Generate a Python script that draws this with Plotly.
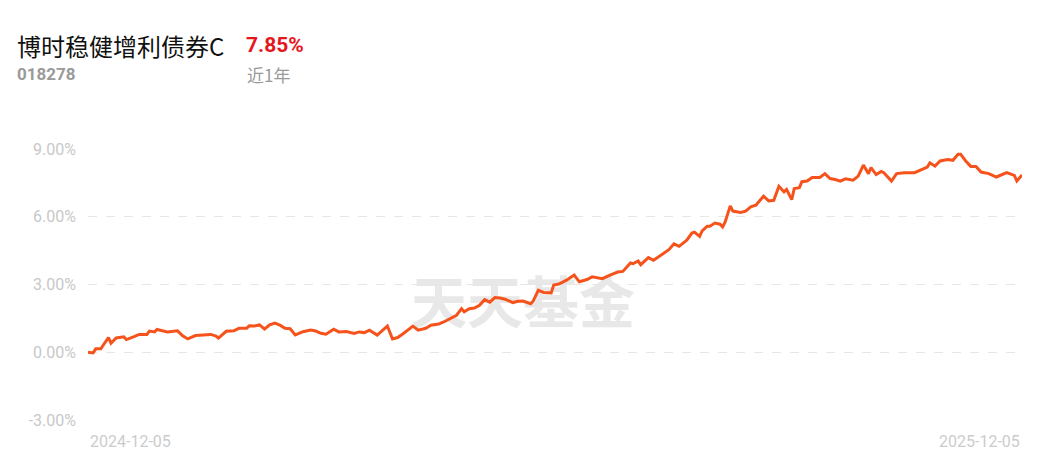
import plotly.graph_objects as go

fund_name = "博时稳健增利债券C"
fund_code = "018278"
period_label = "近1年"
period_return = "7.85%"
watermark = "天天基金"

dates = [
    "2024-12-05", "2024-12-07", "2024-12-08", "2024-12-10", "2024-12-11", "2024-12-13",
    "2024-12-14", "2024-12-16", "2024-12-19", "2024-12-20", "2024-12-23", "2024-12-25",
    "2024-12-28", "2024-12-29", "2024-12-31", "2025-01-01", "2025-01-05", "2025-01-09",
    "2025-01-11", "2025-01-13", "2025-01-16", "2025-01-19", "2025-01-22", "2025-01-24",
    "2025-01-25", "2025-01-28", "2025-01-31", "2025-02-02", "2025-02-05", "2025-02-06",
    "2025-02-08", "2025-02-10", "2025-02-12", "2025-02-14", "2025-02-16", "2025-02-18",
    "2025-02-20", "2025-02-22", "2025-02-24", "2025-02-27", "2025-03-02", "2025-03-04",
    "2025-03-06", "2025-03-08", "2025-03-09", "2025-03-11", "2025-03-13", "2025-03-16",
    "2025-03-19", "2025-03-21", "2025-03-23", "2025-03-25", "2025-03-28", "2025-03-30",
    "2025-04-01", "2025-04-03", "2025-04-05", "2025-04-07", "2025-04-09", "2025-04-11",
    "2025-04-13", "2025-04-16", "2025-04-18", "2025-04-21", "2025-04-23", "2025-04-26",
    "2025-04-28", "2025-04-30", "2025-05-01", "2025-05-03", "2025-05-05", "2025-05-07",
    "2025-05-09", "2025-05-11", "2025-05-13", "2025-05-15", "2025-05-17", "2025-05-20",
    "2025-05-22", "2025-05-24", "2025-05-27", "2025-05-28", "2025-05-30", "2025-06-01",
    "2025-06-04", "2025-06-05", "2025-06-07", "2025-06-10", "2025-06-13", "2025-06-15",
    "2025-06-18", "2025-06-20", "2025-06-24", "2025-06-27", "2025-06-30", "2025-07-02",
    "2025-07-05", "2025-07-06", "2025-07-08", "2025-07-09", "2025-07-12", "2025-07-14",
    "2025-07-17", "2025-07-20", "2025-07-22", "2025-07-24", "2025-07-27", "2025-07-29",
    "2025-07-30", "2025-08-01", "2025-08-02", "2025-08-04", "2025-08-05", "2025-08-07",
    "2025-08-09", "2025-08-10", "2025-08-11", "2025-08-13", "2025-08-14", "2025-08-17",
    "2025-08-19", "2025-08-21", "2025-08-23", "2025-08-26", "2025-08-28", "2025-08-30",
    "2025-09-01", "2025-09-03", "2025-09-04", "2025-09-06", "2025-09-07", "2025-09-09",
    "2025-09-10", "2025-09-12", "2025-09-14", "2025-09-17", "2025-09-19", "2025-09-21",
    "2025-09-23", "2025-09-25", "2025-09-27", "2025-09-30", "2025-10-02", "2025-10-04",
    "2025-10-06", "2025-10-07", "2025-10-09", "2025-10-11", "2025-10-12", "2025-10-15",
    "2025-10-17", "2025-10-20", "2025-10-24", "2025-10-26", "2025-10-29", "2025-10-30",
    "2025-11-01", "2025-11-03", "2025-11-06", "2025-11-08", "2025-11-10", "2025-11-11",
    "2025-11-13", "2025-11-15", "2025-11-17", "2025-11-19", "2025-11-22", "2025-11-25",
    "2025-11-29", "2025-12-02", "2025-12-03", "2025-12-05",
]

returns = [
    0.00, -0.03, 0.15, 0.15, 0.32, 0.65,
    0.40, 0.63, 0.68, 0.56, 0.69, 0.79,
    0.79, 0.94, 0.90, 1.01, 0.90, 0.95,
    0.73, 0.59, 0.74, 0.77, 0.79, 0.72,
    0.63, 0.93, 0.95, 1.06, 1.06, 1.17,
    1.16, 1.21, 1.03, 1.21, 1.29, 1.20,
    1.06, 1.04, 0.77, 0.91, 0.98, 0.94,
    0.84, 0.80, 0.87, 1.02, 0.90, 0.92,
    0.83, 0.90, 0.87, 0.98, 0.76, 0.98,
    1.16, 0.59, 0.65, 0.81, 0.98, 1.16,
    0.98, 1.06, 1.20, 1.25, 1.34, 1.54,
    1.64, 1.93, 1.79, 1.93, 1.96, 2.08,
    2.33, 2.22, 2.42, 2.40, 2.35, 2.20,
    2.26, 2.27, 2.15, 2.27, 2.75, 2.65,
    2.63, 2.98, 3.02, 3.19, 3.42, 3.12,
    3.22, 3.34, 3.26, 3.42, 3.55, 3.58,
    3.95, 3.92, 4.04, 3.88, 4.19, 4.07,
    4.29, 4.54, 4.80, 4.69, 4.96, 5.28,
    5.32, 5.13, 5.37, 5.58, 5.58, 5.72,
    5.67, 5.55, 5.77, 6.48, 6.25, 6.19,
    6.25, 6.44, 6.51, 6.91, 6.70, 6.73,
    7.35, 7.10, 7.21, 6.76, 7.25, 7.29,
    7.55, 7.58, 7.74, 7.74, 7.91, 7.69,
    7.65, 7.58, 7.68, 7.62, 7.80, 8.29,
    7.91, 8.18, 7.87, 8.01, 7.95, 7.58,
    7.91, 7.95, 7.95, 8.05, 8.20, 8.39,
    8.24, 8.47, 8.53, 8.50, 8.77, 8.77,
    8.47, 8.23, 8.23, 7.98, 7.91, 7.76,
    7.95, 7.83, 7.58, 7.85,
]

y_ticks = [-3, 0, 3, 6, 9]
y_tick_labels = ["-3.00%", "0.00%", "3.00%", "6.00%", "9.00%"]
x_labels = ["2024-12-05", "2025-12-05"]

# screen geometry (page has an 8px body margin)
W, H = 1046, 462
OFF = 8
L, R, T, B = 88, 1022, 149, 420


def px(x):
    return (x - L) / (R - L)


def py(y):
    return (B - y) / (B - T)


fig = go.Figure()

# watermark drawn below the line
fig.add_shape(
    type="rect", xref="paper", yref="paper",
    x0=px(400), x1=px(646), y0=py(338), y1=py(276),
    line=dict(width=0), fillcolor="rgba(0,0,0,0)", layer="below",
    label=dict(text=watermark, textposition="middle center",
               font=dict(family="Noto Sans CJK SC", size=56, color="#e8e8e8", weight="bold")),
)

fig.add_trace(go.Scatter(
    x=dates, y=returns, mode="lines",
    line=dict(color="#f6531c", width=3, shape="linear"),
    hoverinfo="skip", showlegend=False,
))

annotations = [
    dict(text=fund_name, x=px(15), y=py(45), xref="paper", yref="paper",
         showarrow=False, xanchor="left", yanchor="middle",
         font=dict(family="Noto Sans CJK SC", size=24, color="#111111")),
    dict(text="<b>" + period_return + "</b>", x=px(244), y=py(45), xref="paper", yref="paper",
         showarrow=False, xanchor="left", yanchor="middle",
         font=dict(family="Roboto", size=21, color="#e6161d")),
    dict(text="<b>" + fund_code + "</b>", x=px(15), y=py(74), xref="paper", yref="paper",
         showarrow=False, xanchor="left", yanchor="middle",
         font=dict(family="Roboto", size=17, color="#9a9a9a")),
    dict(text=period_label, x=px(245), y=py(75), xref="paper", yref="paper",
         showarrow=False, xanchor="left", yanchor="middle",
         font=dict(family="Noto Sans CJK SC", size=17, color="#9a9a9a")),
    dict(text=x_labels[0], x=x_labels[0], y=py(441), xref="x", yref="paper",
         showarrow=False, xanchor="left", yanchor="middle",
         font=dict(family="Roboto", size=16, color="#cccccc")),
    dict(text=x_labels[1], x=x_labels[1], y=py(441), xref="x", yref="paper",
         showarrow=False, xanchor="right", yanchor="middle",
         font=dict(family="Roboto", size=16, color="#cccccc")),
]

fig.update_layout(
    width=W, height=H,
    margin=dict(l=L - OFF, r=W + OFF - R, t=T - OFF, b=H + OFF - B, pad=0),
    paper_bgcolor="white", plot_bgcolor="white",
    annotations=annotations,
    xaxis=dict(type="date", range=[dates[0], dates[-1]], showgrid=False,
               showticklabels=False, zeroline=False, showline=False, ticks=""),
    yaxis=dict(range=[-3, 9], tickvals=y_ticks, ticktext=y_tick_labels,
               showgrid=True, gridcolor="#e6e6e6", griddash="dash", gridwidth=1,
               zeroline=False, showline=False, ticks="",
               ticklabelstandoff=11,
               tickfont=dict(family="Roboto", size=16, color="#c8c8c8")),
)

fig.write_html("out.html")
